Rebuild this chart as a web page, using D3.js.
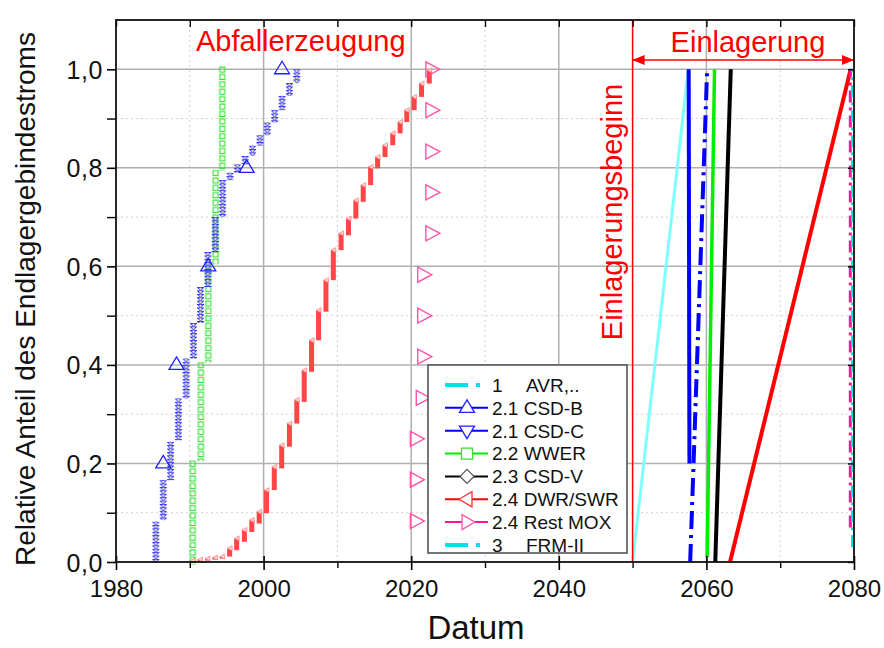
<!DOCTYPE html>
<html>
<head>
<meta charset="utf-8">
<script src="https://cdn.jsdelivr.net/npm/d3@7"></script>
<style>
  body { margin: 0; background: #fff; }
  text { font-family: "Liberation Sans", Arial, sans-serif; }
</style>
</head>
<body>
<svg id="chart" width="884" height="648"></svg>
<script>
// ---------- data ----------
var xTicks = [1980, 2000, 2020, 2040, 2060, 2080];
var xMinorTicks = [1990, 2010, 2030, 2050, 2070];
var yTicks = [0, 0.2, 0.4, 0.6, 0.8, 1.0];
var yMinorTicks = [0.1, 0.3, 0.5, 0.7, 0.9];

// Abfallerzeugung: columns of stacked markers [year, from, to]
var csdCSteps = [
  [1985.4, 0.0, 0.082], [1986.4, 0.085, 0.166], [1987.4, 0.166, 0.244],
  [1988.45, 0.247, 0.332], [1989.5, 0.332, 0.413], [1990.5, 0.413, 0.485],
  [1991.45, 0.485, 0.558], [1992.45, 0.558, 0.629], [1993.45, 0.629, 0.70],
  [1994.45, 0.70, 0.775], [1995.45, 0.775, 0.79], [1996.45, 0.79, 0.807],
  [1997.5, 0.807, 0.824], [1998.5, 0.824, 0.845], [1999.5, 0.845, 0.866],
  [2000.5, 0.866, 0.892], [2001.5, 0.892, 0.917], [2002.5, 0.917, 0.946],
  [2003.5, 0.946, 0.972], [2004.5, 0.972, 1.0]
];
// CSD-V markers lie on top of the CSD-C ones
var csdVSteps = csdCSteps;
var wwerSteps = [
  [1990.4, 0.0, 0.2], [1991.5, 0.21, 0.4], [1992.5, 0.41, 0.6],
  [1993.5, 0.61, 0.79], [1994.4, 0.8, 1.0]
];
var dwrSteps = [
  [1990.4, 0.0, 0.003], [1991.4, 0.003, 0.005], [1992.4, 0.005, 0.007],
  [1993.4, 0.007, 0.009], [1994.4, 0.009, 0.011],
  [1995.4, 0.011, 0.028], [1996.35, 0.024, 0.048], [1997.4, 0.041, 0.065],
  [1998.4, 0.061, 0.085], [1999.4, 0.078, 0.102], [2000.4, 0.099, 0.146],
  [2001.45, 0.146, 0.193], [2002.45, 0.19, 0.237], [2003.5, 0.234, 0.281],
  [2004.5, 0.281, 0.329], [2005.5, 0.325, 0.389], [2006.5, 0.386, 0.45],
  [2007.45, 0.45, 0.511], [2008.45, 0.508, 0.572], [2009.45, 0.572, 0.633],
  [2010.5, 0.633, 0.667], [2011.5, 0.663, 0.697], [2012.5, 0.697, 0.734],
  [2013.5, 0.731, 0.765], [2014.5, 0.765, 0.802], [2015.45, 0.799, 0.822],
  [2016.45, 0.822, 0.846], [2017.5, 0.846, 0.87], [2018.5, 0.87, 0.893],
  [2019.4, 0.893, 0.917], [2020.4, 0.917, 0.944], [2021.4, 0.944, 0.971],
  [2022.45, 0.971, 0.998]
];
var csdBPoints = [[1986.4, 0.2], [1988.2, 0.4], [1992.5, 0.6], [1997.7, 0.8], [2002.5, 1.0]];
var moxPoints = [
  [2020.7, 0.083], [2020.7, 0.167], [2020.7, 0.25], [2021.5, 0.333],
  [2021.7, 0.417], [2021.7, 0.5], [2021.7, 0.583], [2022.8, 0.667],
  [2022.8, 0.75], [2022.8, 0.833], [2022.8, 0.917], [2022.8, 1.0]
];

// Einlagerung: storage lines [year, share]
var avrLine   = [[2050, 0], [2057.55, 1.0]];
var csdBLine  = [[2057.7, 0.2], [2057.6, 1.0]];
var csdCLine  = [[2057.8, 0], [2060.1, 1.0]];
var wwerLine  = [[2060.1, 0.01], [2061.1, 1.0]];
var csdVLine  = [[2061.2, 0], [2063.3, 1.0]];
var dwrLine   = [[2063.2, 0], [2079.55, 1.0]];
var moxLine   = [[2079.5, 0.07], [2079.5, 1.0]];
var frmLine   = [[2079.8, 0.03], [2079.8, 1.0]];

var storageStart = 2050;
var storageEnd = 2080;

var legendKeys  = ["1", "2.1", "2.1", "2.2", "2.3", "2.4", "2.4", "3"];
var legendNames = ["AVR,..", "CSD-B", "CSD-C", "WWER", "CSD-V", "DWR/SWR", "Rest MOX", "FRM-II"];

// ---------- chart ----------
var svg = d3.select("#chart");
var x = d3.scaleLinear().domain([1980, 2080]).range([116, 854]);
var y = d3.scaleLinear().domain([0, 1.1]).range([562, 20]);
var de = d3.formatLocale({decimal: ",", thousands: ".", grouping: [3], currency: ["", "€"]});
var fmtY = de.format(".1f");

var defs = svg.append("defs");

// grid
var grid = svg.append("g");
grid.selectAll("line.vmin").data(xMinorTicks).join("line")
  .attr("x1", d => x(d)).attr("x2", d => x(d)).attr("y1", y(1.1)).attr("y2", y(0))
  .attr("stroke", "#d2d2d2").attr("stroke-width", 1).attr("stroke-dasharray", "2,3");
grid.selectAll("line.hmin").data(yMinorTicks).join("line")
  .attr("x1", x(1980)).attr("x2", x(2080)).attr("y1", d => y(d)).attr("y2", d => y(d))
  .attr("stroke", "#d2d2d2").attr("stroke-width", 1).attr("stroke-dasharray", "2,3");
grid.selectAll("line.vmaj").data(xTicks.slice(1, -1)).join("line")
  .attr("x1", d => x(d)).attr("x2", d => x(d)).attr("y1", y(1.1)).attr("y2", y(0))
  .attr("stroke", "#b0b0b0").attr("stroke-width", 1.5);
grid.selectAll("line.hmaj").data(yTicks.slice(1)).join("line")
  .attr("x1", x(1980)).attr("x2", x(2080)).attr("y1", d => y(d)).attr("y2", d => y(d))
  .attr("stroke", "#b0b0b0").attr("stroke-width", 1.5);

// ---------- production markers ----------
var plot = svg.append("g");

// WWER open squares, one pattern per column so the squares line up
defs.selectAll("pattern.wwer").data(wwerSteps).join("pattern")
  .attr("class", "wwer")
  .attr("id", (d, i) => "wwer" + i)
  .attr("patternUnits", "userSpaceOnUse")
  .attr("x", d => x(d[0]) - 3.5).attr("y", d => y(d[2]) - 3.2)
  .attr("width", 7).attr("height", 7.4)
  .append("rect")
  .attr("x", 1).attr("y", 1).attr("width", 5).attr("height", 5)
  .attr("fill", "none").attr("stroke", "#2ee02e").attr("stroke-width", 1.1);
plot.selectAll("rect.wwer").data(wwerSteps).join("rect")
  .attr("x", d => x(d[0]) - 3.5).attr("width", 7)
  .attr("y", d => y(d[2]) - 3.2).attr("height", d => y(d[1]) - y(d[2]) + 6)
  .attr("fill", (d, i) => "url(#wwer" + i + ")");

// CSD-C small down triangles
defs.selectAll("pattern.csdc").data(csdCSteps).join("pattern")
  .attr("class", "csdc")
  .attr("id", (d, i) => "csdc" + i)
  .attr("patternUnits", "userSpaceOnUse")
  .attr("x", d => x(d[0]) - 3.5).attr("y", d => y(d[2]))
  .attr("width", 7).attr("height", 3.4)
  .append("path")
  .attr("d", "M0.6,0.5H6.4L3.5,3.3Z")
  .attr("fill", "none").attr("stroke", "#2a2aff").attr("stroke-width", 0.9);
plot.selectAll("rect.csdc").data(csdCSteps).join("rect")
  .attr("x", d => x(d[0]) - 3.5).attr("width", 7)
  .attr("y", d => y(d[2])).attr("height", d => Math.max(3.4, y(d[1]) - y(d[2])))
  .attr("fill", (d, i) => "url(#csdc" + i + ")");

// CSD-V small diamonds on top
defs.selectAll("pattern.csdv").data(csdVSteps).join("pattern")
  .attr("class", "csdv")
  .attr("id", (d, i) => "csdv" + i)
  .attr("patternUnits", "userSpaceOnUse")
  .attr("x", d => x(d[0]) - 3.5).attr("y", d => y(d[2]))
  .attr("width", 7).attr("height", 3.4)
  .append("path")
  .attr("d", "M3.7,0.4L5,1.7L3.7,3L2.4,1.7Z")
  .attr("fill", "#f4f4f4").attr("stroke", "#8a8a8a").attr("stroke-width", 0.6);
plot.selectAll("rect.csdv").data(csdVSteps).join("rect")
  .attr("x", d => x(d[0]) - 3.5).attr("width", 7)
  .attr("y", d => y(d[2])).attr("height", d => Math.max(3.4, y(d[1]) - y(d[2])))
  .attr("fill", (d, i) => "url(#csdv" + i + ")");

// DWR/SWR: stacked left triangles read as solid red bars
plot.selectAll("rect.dwr").data(dwrSteps).join("rect")
  .attr("x", d => x(d[0]) - 2.5).attr("width", 5)
  .attr("y", d => y(d[2])).attr("height", d => Math.max(2, y(d[1]) - y(d[2])))
  .attr("fill", "#ff4545");
plot.selectAll("path.dwrtip").data(dwrSteps).join("path")
  .attr("transform", d => "translate(" + x(d[0]) + "," + y(d[2]) + ")")
  .attr("d", "M-2.5,0L2.5,-2.5L2.5,2.5Z")
  .attr("fill", "#ffd0d0").attr("stroke", "#ff7070").attr("stroke-width", 0.6);

// CSD-B big up triangles
plot.selectAll("path.csdb").data(csdBPoints).join("path")
  .attr("transform", d => "translate(" + x(d[0]) + "," + y(d[1]) + ")")
  .attr("d", "M0,-8L7.5,4.5L-7.5,4.5Z")
  .attr("fill", "none").attr("stroke", "#2020ff").attr("stroke-width", 1.3);

// Rest MOX right triangles
plot.selectAll("path.mox").data(moxPoints).join("path")
  .attr("transform", d => "translate(" + x(d[0]) + "," + y(d[1]) + ")")
  .attr("d", "M-6,-7.5L8,0L-6,7.5Z")
  .attr("fill", "none").attr("stroke", "#ff55aa").attr("stroke-width", 1.4);

// ---------- storage lines ----------
var line = d3.line().x(d => x(d[0])).y(d => y(d[1]));
var storage = [
  {data: avrLine,  color: "#80ffff", width: 3,   dash: null},
  {data: csdBLine, color: "#0000ff", width: 4,   dash: null},
  {data: csdCLine, color: "#0000ff", width: 4,   dash: "18,6,3,6"},
  {data: wwerLine, color: "#00ee00", width: 3.5, dash: null},
  {data: csdVLine, color: "#000000", width: 4,   dash: null},
  {data: dwrLine,  color: "#ff0000", width: 4,   dash: null},
  {data: moxLine,  color: "#ff1493", width: 3,   dash: "12,5,3,5"},
  {data: frmLine,  color: "#00e0ea", width: 3,   dash: "12,5,3,5"}
];
plot.selectAll("path.store").data(storage).join("path")
  .attr("d", d => line(d.data))
  .attr("fill", "none")
  .attr("stroke", d => d.color)
  .attr("stroke-width", d => d.width)
  .attr("stroke-dasharray", d => d.dash);

// ---------- annotations ----------
svg.append("line")
  .attr("x1", x(storageStart)).attr("x2", x(storageStart))
  .attr("y1", y(1.1)).attr("y2", y(0))
  .attr("stroke", "#ff0000").attr("stroke-width", 1.5);

defs.append("marker").attr("id", "arr")
  .attr("viewBox", "0 0 12 10").attr("refX", 12).attr("refY", 5)
  .attr("markerWidth", 12).attr("markerHeight", 10)
  .attr("markerUnits", "userSpaceOnUse").attr("orient", "auto-start-reverse")
  .append("path").attr("d", "M0,0L12,5L0,10Z").attr("fill", "#ff0000");
svg.append("line")
  .attr("x1", x(storageStart)).attr("x2", x(storageEnd))
  .attr("y1", 60).attr("y2", 60)
  .attr("stroke", "#ff0000").attr("stroke-width", 1.5)
  .attr("marker-start", "url(#arr)").attr("marker-end", "url(#arr)");

svg.append("text").attr("x", 196).attr("y", 51)
  .attr("font-size", 29).attr("fill", "#ff0000").text("Abfallerzeugung");
svg.append("text").attr("x", 748).attr("y", 52).attr("text-anchor", "middle")
  .attr("font-size", 29).attr("fill", "#ff0000").text("Einlagerung");
svg.append("text")
  .attr("transform", "translate(622,212) rotate(-90)")
  .attr("text-anchor", "middle")
  .attr("font-size", 29).attr("fill", "#ff0000").text("Einlagerungsbeginn");

// ---------- axes ----------
var axB = svg.append("g").attr("transform", "translate(0," + y(0) + ")")
  .call(d3.axisBottom(x).tickValues(xTicks).tickSize(8).tickFormat(d3.format("d")));
axB.selectAll(".tick line").attr("y1", -6).attr("stroke-width", 1.6);
axB.selectAll("text").attr("y", 18).attr("font-size", 24).attr("fill", "#111");
svg.append("g").attr("transform", "translate(0," + y(0) + ")")
  .call(d3.axisBottom(x).tickValues(xMinorTicks).tickSize(6).tickFormat(""))
  .selectAll(".tick line").attr("stroke-width", 1.4);

var axL = svg.append("g").attr("transform", "translate(" + x(1980) + ",0)")
  .call(d3.axisLeft(y).tickValues(yTicks).tickSize(9).tickPadding(4).tickFormat(fmtY));
axL.selectAll(".tick line").attr("stroke-width", 1.6);
axL.selectAll("text").attr("font-size", 25).attr("letter-spacing", 0.6)
  .attr("dy", "0.36em").attr("fill", "#111");
svg.append("g").attr("transform", "translate(" + x(1980) + ",0)")
  .call(d3.axisLeft(y).tickValues(yMinorTicks).tickSize(9).tickFormat(""))
  .selectAll(".tick line").attr("stroke-width", 1.4);

svg.append("g").attr("transform", "translate(0," + y(1.1) + ")")
  .call(d3.axisTop(x).tickValues(xTicks.concat(xMinorTicks)).tickSize(-7).tickFormat(""))
  .selectAll(".tick line").attr("stroke-width", 1.4);
svg.append("g").attr("transform", "translate(" + x(2080) + ",0)")
  .call(d3.axisRight(y).tickValues(yTicks).tickSize(-6).tickFormat(""))
  .selectAll(".tick line").attr("stroke-width", 1.4);

svg.selectAll(".domain").remove();
svg.append("rect")
  .attr("x", x(1980)).attr("y", y(1.1))
  .attr("width", x(2080) - x(1980)).attr("height", y(0) - y(1.1))
  .attr("fill", "none").attr("stroke", "#111").attr("stroke-width", 1.8);

svg.append("text")
  .attr("x", 476).attr("y", 639)
  .attr("text-anchor", "middle").attr("font-size", 33).attr("fill", "#111")
  .text("Datum");
svg.append("text")
  .attr("transform", "translate(35," + ((y(0) + y(1.1)) / 2 + 8) + ") rotate(-90)")
  .attr("text-anchor", "middle").attr("font-size", 28).attr("fill", "#111")
  .text("Relative Anteil des Endlagergebindestroms");

// ---------- legend ----------
var lg = svg.append("g");
lg.append("rect").attr("x", 428).attr("y", 365).attr("width", 199).attr("height", 188)
  .attr("fill", "#fff").attr("stroke", "#555").attr("stroke-width", 1.6);

var legendStyle = [
  {color: "#00e0ea", width: 4, dash: "23,8,4,60", marker: null},
  {color: "#0000ff", width: 2, dash: null, marker: "M0,-8L7.5,4.5L-7.5,4.5Z", mstroke: "#2020ff"},
  {color: "#0000ff", width: 2, dash: null, marker: "M0,8L7.5,-4.5L-7.5,-4.5Z", mstroke: "#2020ff"},
  {color: "#00ee00", width: 2, dash: null, marker: "M-5.5,-5.5H5.5V5.5H-5.5Z", mstroke: "#33e033"},
  {color: "#000000", width: 2, dash: null, marker: "M0,-7L7,0L0,7L-7,0Z", mstroke: "#555"},
  {color: "#ff0000", width: 2, dash: null, marker: "M-8,0L5,-7.5L5,7.5Z", mstroke: "#ff3030"},
  {color: "#ff1493", width: 2, dash: null, marker: "M8,0L-5,-7.5L-5,7.5Z", mstroke: "#ff55aa"},
  {color: "#00e0ea", width: 4, dash: "23,8,4,60", marker: null}
];

var rows = lg.selectAll("g.row").data(legendNames).join("g")
  .attr("transform", (d, i) => "translate(0," + (385 + i * 22.85) + ")");
rows.append("line")
  .attr("x1", 445).attr("x2", 488).attr("y1", 0).attr("y2", 0)
  .attr("stroke", (d, i) => legendStyle[i].color)
  .attr("stroke-width", (d, i) => legendStyle[i].width)
  .attr("stroke-dasharray", (d, i) => legendStyle[i].dash);
rows.filter((d, i) => legendStyle[i].marker).append("path")
  .attr("transform", "translate(467,0)")
  .attr("d", function(d) { return legendStyle[legendNames.indexOf(d)].marker; })
  .attr("fill", "#fff")
  .attr("stroke", function(d) { return legendStyle[legendNames.indexOf(d)].mstroke; })
  .attr("stroke-width", 1.3);
rows.append("text")
  .attr("x", 492).attr("dy", "0.36em").attr("font-size", 19).attr("fill", "#111")
  .text((d, i) => (i == 0 || i == 7) ? legendKeys[i] : legendKeys[i] + " " + d);
rows.filter((d, i) => i == 0 || i == 7).append("text")
  .attr("x", 526).attr("dy", "0.36em").attr("font-size", 19).attr("fill", "#111")
  .text(d => d);
</script>
</body>
</html>
